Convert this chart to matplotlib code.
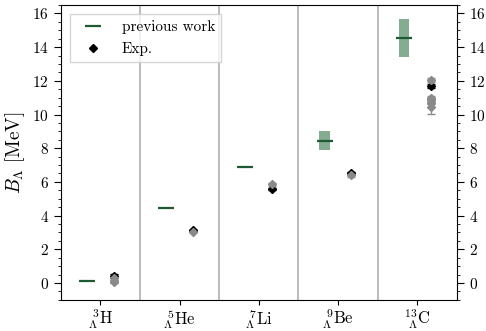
import matplotlib
matplotlib.use("Agg")
import matplotlib.pyplot as plt
import numpy as np

plt.rcParams['font.family'] = 'serif'
plt.rcParams['font.serif'] = ['cmr10']
plt.rcParams['mathtext.fontset'] = 'cm'
plt.rcParams['axes.formatter.use_mathtext'] = True

nuclei = [r'$^{\ 3}_{\Lambda}\mathrm{H}$', r'$^{\ 5}_{\Lambda}\mathrm{He}$',
          r'$^{\ 7}_{\Lambda}\mathrm{Li}$', r'$^{\ 9}_{\Lambda}\mathrm{Be}$',
          r'$^{13}_{\ \Lambda}\mathrm{C}$']

# previous work: value, lower, upper (band)
prev_val = [0.13, 4.43, 6.90, 8.44, 14.52]
prev_lo = [0.13, 4.43, 6.90, 7.90, 13.40]
prev_hi = [0.13, 4.43, 6.90, 9.03, 15.64]

# experimental reference values
exp_val = [0.41, 3.12, 5.58, 6.55, 11.69]
exp_err = [0.12, 0.02, 0.03, 0.05, 0.12]

# other measurements (grey)
other_idx = [0, 0, 0, 1, 2, 3, 4, 4, 4, 4, 4]
other_val = [0.27, 0.13, 0.05, 3.05, 5.85, 6.40, 12.04, 11.00, 10.86, 10.70, 10.47]
other_err = [0.12, 0.05, 0.05, 0.03, 0.10, 0.10, 0.10, 0.10, 0.10, 0.10, 0.45]

fig, ax = plt.subplots(figsize=(4.86, 3.31), dpi=100)
x = np.arange(len(nuclei))
off = 0.17

for i in range(len(nuclei)):
    if prev_hi[i] > prev_lo[i]:
        ax.fill_between([x[i] - off - 0.065, x[i] - off + 0.065], prev_lo[i], prev_hi[i],
                        color='#6f9e7e', alpha=0.85, lw=0)
ax.plot(x - off, prev_val, ls='none', marker='_', ms=11, mew=1.6, color='#1e5b33',
        label='previous work')

ax.errorbar(x[other_idx] + off, other_val, yerr=other_err, fmt='D', ms=4,
            color='#8a8a8a', ecolor='#8a8a8a', capsize=3, elinewidth=1)
ax.errorbar(x + off, exp_val, yerr=exp_err, fmt='none', ecolor='black',
            capsize=3, elinewidth=1)
ax.plot(x + off, exp_val, ls='none', marker='D', ms=4, color='black', label='Exp.')

for b in x[:-1] + 0.5:
    ax.axvline(b, color='#b0b0b0', lw=1.2)

ax.set_xlim(-0.5, 4.5)
ax.set_ylim(-1, 16.5)
ax.set_xticks(x)
ax.set_xticklabels(nuclei, fontsize=12)
ax.set_yticks(np.arange(0, 17, 2))
ax.set_yticks(np.arange(-1, 16.6, 0.5), minor=True)
ax.tick_params(axis='y', which='both', right=True, labelright=True, labelsize=11)
ax.tick_params(axis='y', which='major', length=5)
ax.tick_params(axis='y', which='minor', length=2.5)
ax.tick_params(axis='x', pad=2)
ax.set_ylabel(r'$B_\Lambda\ [\mathrm{MeV}]$', fontsize=14)

ax.legend(loc='upper left', fontsize=11, frameon=True, fancybox=False,
          edgecolor='#cccccc', handlelength=2.2, borderaxespad=0.6)

plt.subplots_adjust(left=0.125, right=0.94, top=0.985, bottom=0.094)
fig.savefig('out.png', dpi=100)
